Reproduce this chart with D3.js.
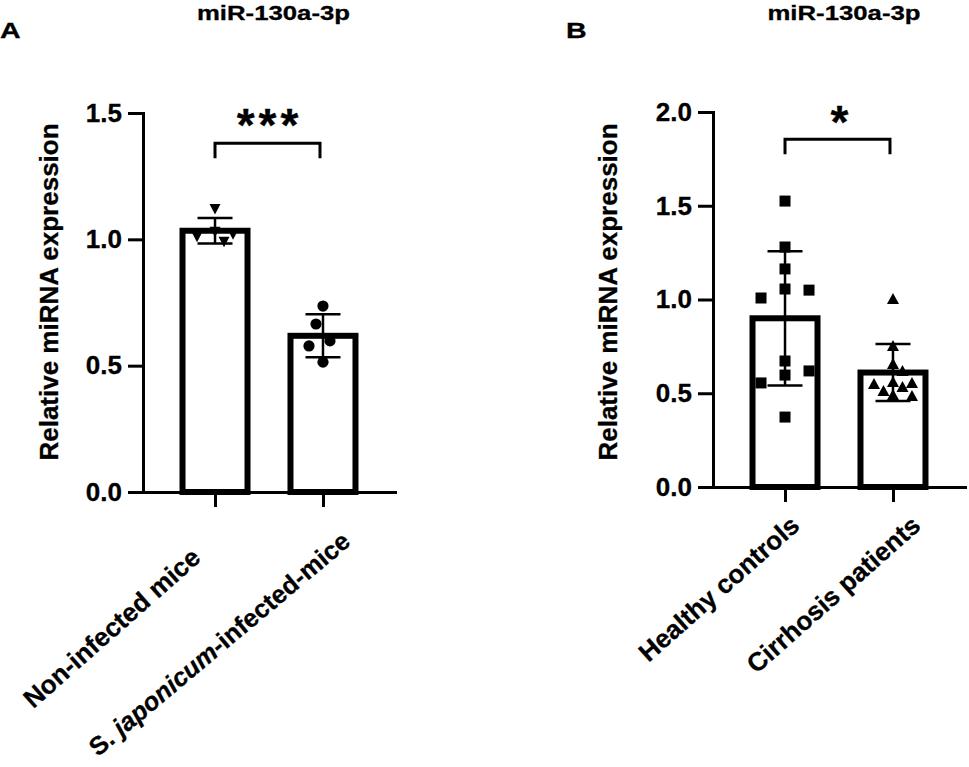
<!DOCTYPE html>
<html>
<head>
<meta charset="utf-8">
<script src="https://cdn.jsdelivr.net/npm/d3@7"></script>
<style>
  body { margin: 0; background: #fff; }
  svg { display: block; font-family: "Liberation Sans", Arial, sans-serif; font-weight: bold; }
  svg text { stroke: #000; stroke-width: 0.3px; }
</style>
</head>
<body>
<div id="chart"></div>
<script>
// ---- data ----
var panelLetters = ['A', 'B'];
var panelTitles = ['miR-130a-3p', 'miR-130a-3p'];
var yAxisTitle = 'Relative miRNA expression';

var miceGroups = ['Non-infected mice', 'S. japonicum-infected-mice'];
var miceNonInfected = [1.12, 1.03, 1.02, 1.01, 0.99];
var miceInfected = [0.736, 0.665, 0.598, 0.578, 0.514];
var miceTicks = [0, 0.5, 1.0, 1.5];
var miceSignif = '***';
var miceBracketLevel = 1.38;

var humanGroups = ['Healthy controls', 'Cirrhosis patients'];
var healthyControls = [1.525, 1.28, 1.163, 1.056, 1.05, 1.008, 0.672, 0.619, 0.597, 0.555, 0.373];
var cirrhosisPatients = [1.003, 0.752, 0.656, 0.619, 0.56, 0.555, 0.549, 0.533, 0.512, 0.491, 0.485];
var humanTicks = [0, 0.5, 1.0, 1.5, 2.0];
var humanSignif = '*';
var humanBracketLevel = 1.855;

var W = 969, H = 767;
var svg = d3.select('#chart').append('svg').attr('width', W).attr('height', H);

// greedy beeswarm so the dots do not sit on top of each other
function swarm(vals, y, step, minDist, first) {
  var order = vals.map(function (v, i) { return i; })
    .sort(function (a, b) { return vals[b] - vals[a]; });
  var placed = [], off = [];
  order.forEach(function (i) {
    var py = y(vals[i]);
    for (var k = 0; k < 40; k++) {
      var c = k === 0 ? 0 : (k % 2 ? first : -first) * Math.ceil(k / 2) * step;
      var ok = placed.every(function (q) { return Math.hypot(q.x - c, q.y - py) >= minDist; });
      if (ok) { off[i] = c; placed.push({x: c, y: py}); break; }
    }
  });
  return off;
}

function markerPath(kind) {
  if (kind === 'circle') return d3.symbol().type(d3.symbolCircle).size(Math.PI * 5.6 * 5.6)();
  if (kind === 'square') return 'M-5.5,-5.5H5.5V5.5H-5.5Z';
  if (kind === 'triUp') return 'M0,-6L6,5L-6,5Z';
  return 'M-5.5,-5L5.5,-5L0,5.5Z'; // triDown
}

function drawPanel(p) {
  var g = svg.append('g');
  var y = d3.scaleLinear().domain([0, d3.max(p.ticks)]).range([p.bottom, p.top]);
  var x = d3.scalePoint().domain(p.groups).range([p.left, p.right]).padding(0.667);

  // panel letter and title are drawn wide, like in the figure
  g.append('text')
    .attr('transform', 'translate(' + p.letterX + ',38) scale(1.3,1)')
    .attr('font-size', 22)
    .text(p.letter);
  g.append('text').attr('x', p.titleX).attr('y', 20).attr('text-anchor', 'middle')
    .attr('font-size', 21).attr('textLength', 153).attr('lengthAdjust', 'spacingAndGlyphs')
    .text(p.title);

  // y axis
  var ya = g.append('g').attr('transform', 'translate(' + p.left + ',0)')
    .call(d3.axisLeft(y).tickValues(p.ticks).tickFormat(d3.format('.1f'))
      .tickSize(15).tickSizeOuter(0).tickPadding(6));
  ya.select('.domain').attr('stroke-width', 3).attr('stroke-linecap', 'square');
  ya.selectAll('.tick line').attr('stroke-width', 3);
  ya.selectAll('.tick text').attr('font-size', 26).attr('font-family', null).attr('fill', '#000');

  g.append('text')
    .attr('transform', 'translate(' + p.yTitleX + ',292) rotate(-90)')
    .attr('text-anchor', 'middle').attr('font-size', 26)
    .text(yAxisTitle);

  // x axis
  var xa = g.append('g').attr('transform', 'translate(0,' + p.bottom + ')')
    .call(d3.axisBottom(x).tickSize(15).tickSizeOuter(0).tickFormat(''));
  xa.select('.domain').attr('stroke-width', 3).attr('stroke-linecap', 'square');
  xa.selectAll('.tick line').attr('stroke-width', 3);

  p.groups.forEach(function (name, i) {
    var sh = p.labelShift[i];
    var t = g.append('text')
      .attr('transform', 'translate(' + (x(name) + sh[0]) + ',' + (p.bottom + sh[1]) + ') rotate(' + sh[2] + ')')
      .attr('text-anchor', 'end').attr('font-size', sh[3]);
    if (name.indexOf('S. japonicum') === 0) {
      t.append('tspan').text('S. ');
      t.append('tspan').attr('font-style', 'italic').text('japonicum');
      t.append('tspan').text(name.slice('S. japonicum'.length));
    } else {
      t.text(name);
    }
  });

  // bars, error bars, points
  p.series.forEach(function (vals, i) {
    var cx = x(p.groups[i]);
    var mean = d3.mean(vals), sd = d3.deviation(vals);
    g.append('rect')
      .attr('x', cx - 32.5).attr('width', 65)
      .attr('y', y(mean)).attr('height', p.bottom - y(mean))
      .attr('fill', '#fff').attr('stroke', '#000').attr('stroke-width', 6);
    var eb = g.append('g').attr('stroke', '#000').attr('stroke-width', 2.5);
    eb.append('line').attr('x1', cx).attr('x2', cx).attr('y1', y(mean + sd)).attr('y2', y(mean - sd));
    [mean + sd, mean - sd].forEach(function (v) {
      eb.append('line').attr('x1', cx - 17.5).attr('x2', cx + 17.5).attr('y1', y(v)).attr('y2', y(v));
    });
    var st = p.swarm[i];
    var off = swarm(vals, y, st[0], st[1], st[2]);
    g.selectAll(null).data(vals).enter().append('path')
      .attr('d', markerPath(p.markers[i]))
      .attr('transform', function (d, j) { return 'translate(' + (cx + off[j]) + ',' + y(d) + ')'; })
      .attr('fill', '#000');
  });

  // significance bracket
  var by = y(p.bracket);
  var x1 = x(p.groups[0]), x2 = x(p.groups[1]) - 3;
  g.append('path')
    .attr('d', 'M' + x1 + ',' + (by + 15) + 'V' + by + 'H' + x2 + 'V' + (by + 15))
    .attr('fill', 'none').attr('stroke', '#000').attr('stroke-width', 3);
  g.append('text').attr('x', (x1 + x2) / 2 + 2).attr('y', by + p.starDy)
    .attr('text-anchor', 'middle').attr('font-size', 46).attr('letter-spacing', p.starSpacing)
    .text(p.signif);
}

drawPanel({
  letter: panelLetters[0], letterX: 0, title: panelTitles[0], titleX: 273.5,
  groups: miceGroups, series: [miceNonInfected, miceInfected], ticks: miceTicks,
  markers: ['triDown', 'circle'], swarm: [[9, 11, 1], [7, 19, -1]],
  signif: miceSignif, bracket: miceBracketLevel, starDy: -2, starSpacing: 4,
  left: 143, right: 395, top: 113, bottom: 492, yTitleX: 58,
  labelShift: [[-13, 68, -41.5, 26], [29, 52, -40, 25.5]]
});

drawPanel({
  letter: panelLetters[1], letterX: 566, title: panelTitles[1], titleX: 844,
  groups: humanGroups, series: [healthyControls, cirrhosisPatients], ticks: humanTicks,
  markers: ['square', 'triUp'], swarm: [[24, 13, 1], [9.5, 10, 1]],
  signif: humanSignif, bracket: humanBracketLevel, starDy: -1, starSpacing: 0,
  left: 713, right: 965, top: 112, bottom: 487, yTitleX: 617,
  labelShift: [[16, 41, -41.5, 26], [29, 41, -41.5, 26]]
});
</script>
</body>
</html>
